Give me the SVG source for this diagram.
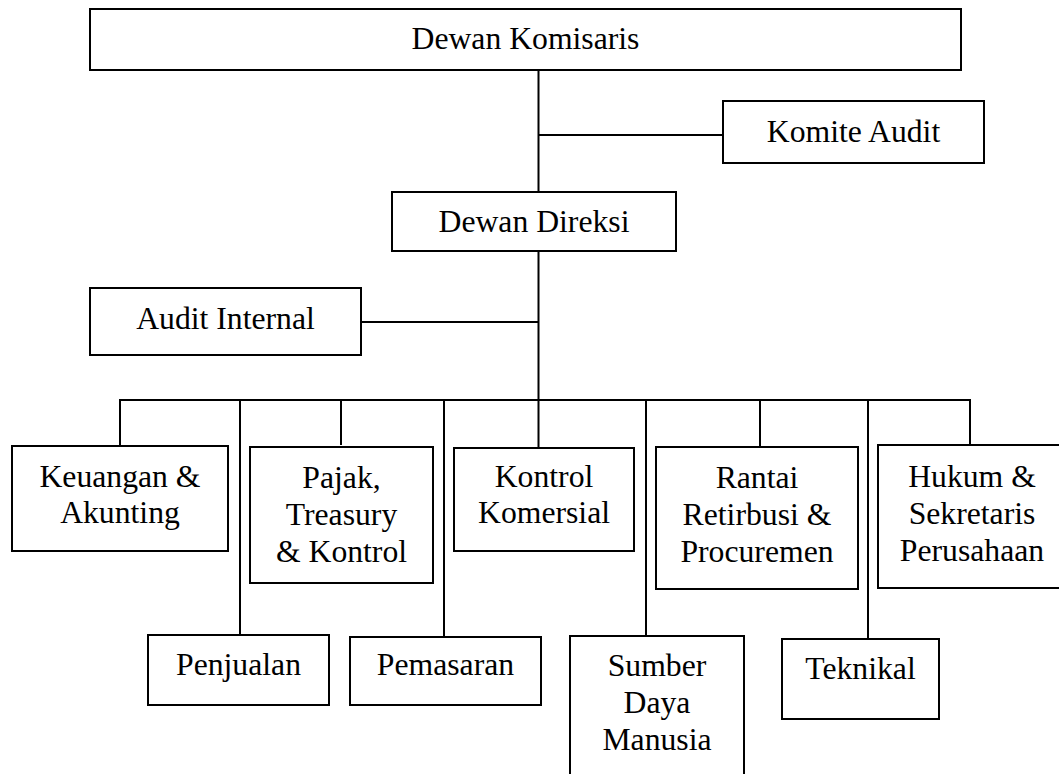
<svg xmlns="http://www.w3.org/2000/svg" width="1059" height="774" viewBox="0 0 1059 774">
<style>
.box{fill:#fff;stroke:#000;stroke-width:2}
.ln{stroke:#000;stroke-width:2;fill:none}
text{font-family:"Liberation Serif","Times New Roman",serif;font-size:31.7px;fill:#000;text-anchor:middle}
</style>
<rect width="1059" height="774" fill="#fff"/>
<g id="connectors">
<path class="ln" d="M538.5 70V448"/>
<path class="ln" d="M538.5 135H723"/>
<path class="ln" d="M361 322H538.5"/>
<path class="ln" d="M119 400H971"/>
<path class="ln" d="M120 400V446"/>
<path class="ln" d="M240 400V636"/>
<path class="ln" d="M341 400V445"/>
<path class="ln" d="M444 400V637"/>
<path class="ln" d="M646 400V636"/>
<path class="ln" d="M760 400V447"/>
<path class="ln" d="M868 400V639"/>
<path class="ln" d="M970 400V445"/>
</g>
<g id="dewan-komisaris"><rect class="box" x="90" y="9" width="871" height="61"/><text x="525.5" y="49">Dewan Komisaris</text></g>
<g id="komite-audit"><rect class="box" x="723" y="101" width="261" height="62"/><text x="853.5" y="142">Komite Audit</text></g>
<g id="dewan-direksi"><rect class="box" x="392" y="192" width="284" height="59"/><text x="534" y="232">Dewan Direksi</text></g>
<g id="audit-internal"><rect class="box" x="90" y="288" width="271" height="67"/><text x="225.5" y="329">Audit Internal</text></g>
<g id="keuangan"><rect class="box" x="12" y="446" width="216" height="105"/><text x="120" y="487">Keuangan &amp;</text><text x="120" y="523">Akunting</text></g>
<g id="pajak"><rect class="box" x="250" y="447" width="183" height="136"/><text x="341.5" y="488">Pajak,</text><text x="341.5" y="525">Treasury</text><text x="341.5" y="562">&amp; Kontrol</text></g>
<g id="kontrol-komersial"><rect class="box" x="454" y="448" width="180" height="103"/><text x="544" y="487">Kontrol</text><text x="544" y="523">Komersial</text></g>
<g id="rantai"><rect class="box" x="656" y="447" width="202" height="142"/><text x="757" y="488">Rantai</text><text x="757" y="525">Retirbusi &amp;</text><text x="757" y="562">Procuremen</text></g>
<g id="hukum"><rect class="box" x="878" y="445" width="200" height="143"/><text x="972" y="487">Hukum &amp;</text><text x="972" y="524">Sekretaris</text><text x="972" y="561">Perusahaan</text></g>
<g id="penjualan"><rect class="box" x="148" y="635" width="181" height="70"/><text x="238.5" y="675">Penjualan</text></g>
<g id="pemasaran"><rect class="box" x="350" y="637" width="191" height="68"/><text x="445.5" y="675">Pemasaran</text></g>
<g id="sdm"><rect class="box" x="570" y="636" width="174" height="150"/><text x="657" y="676">Sumber</text><text x="657" y="713">Daya</text><text x="657" y="750">Manusia</text></g>
<g id="teknikal"><rect class="box" x="782" y="639" width="157" height="80"/><text x="860.5" y="679">Teknikal</text></g>
</svg>
